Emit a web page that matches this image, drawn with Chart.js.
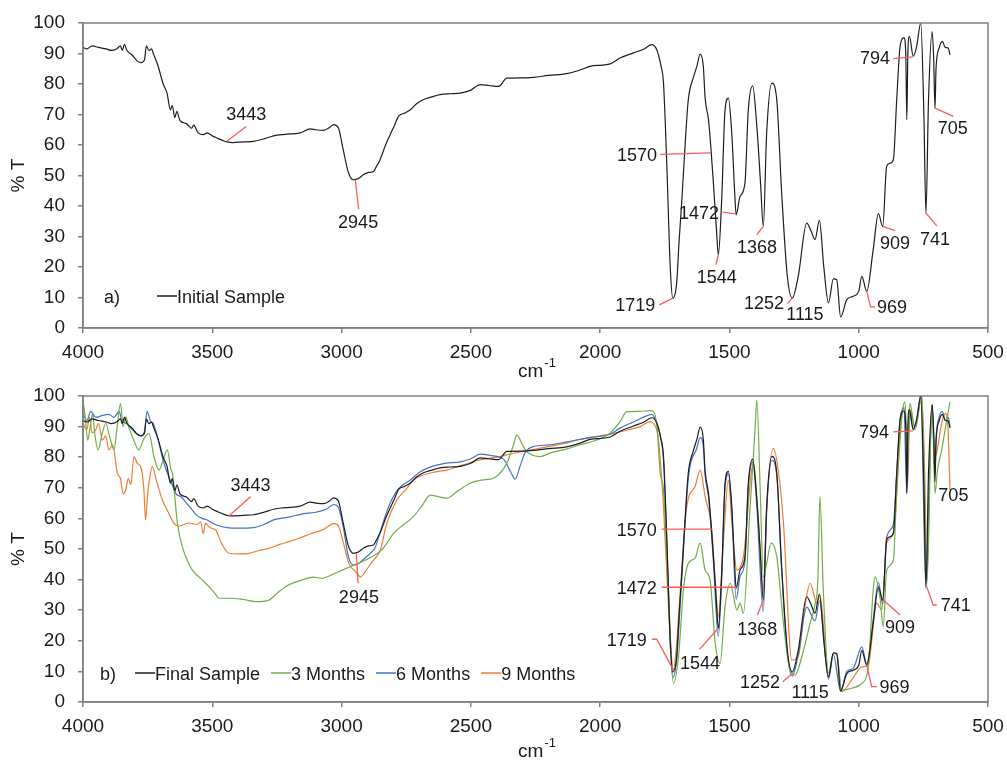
<!DOCTYPE html>
<html>
<head>
<meta charset="utf-8">
<script src="https://cdn.jsdelivr.net/npm/chart.js@4.4.1/dist/chart.umd.min.js"></script>
<style>
  body { margin: 0; background: #fff; }
  .panel { position: absolute; left: 0; width: 1007px; height: 380px; }
</style>
</head>
<body>
<div class="panel" style="top:0"><canvas id="chartA" width="1007" height="380"></canvas></div>
<div class="panel" style="top:380px"><canvas id="chartB" width="1007" height="380"></canvas></div>
<script>
// axis ticks
const xTicks = [4000, 3500, 3000, 2500, 2000, 1500, 1000, 500];
const yTicks = [0, 10, 20, 30, 40, 50, 60, 70, 80, 90, 100];

// spectra: [wavenumber cm-1, %T]
const initialSample = [
  [4000,92],[3985,91.5],[3965,92.5],[3940,92],[3910,91.5],[3890,91],[3870,91.5],[3855,92.5],[3848,91],[3840,93],
  [3830,91],[3810,89.5],[3790,87.5],[3775,87],[3762,88],[3755,92.5],[3745,91],[3735,91.5],[3728,90],[3710,86],
  [3690,80],[3675,77],[3662,71.5],[3655,73],[3645,69],[3637,71],[3625,68],[3600,67],[3580,65.5],[3572,66.5],
  [3555,64],[3534,63.4],[3520,64],[3500,63],[3482,62.3],[3460,61.5],[3443,61],[3420,60.8],[3380,61],[3340,61.2],
  [3300,62],[3263,63],[3220,63.5],[3160,64],[3121,65.3],[3100,65],[3070,64.8],[3045,65.8],[3031,66.7],[3012,65.6],
  [2995,59],[2973,50.8],[2954,48.6],[2935,49],[2915,50.3],[2895,51],[2877,51.3],[2865,53],[2851,55.2],[2830,60],
  [2812,63.4],[2795,66.5],[2780,69.4],[2755,70.5],[2735,71.5],[2710,73.5],[2683,74.9],[2650,75.8],[2619,76.5],[2580,76.8],
  [2541,77],[2500,78],[2464,79.8],[2430,79.5],[2393,79.2],[2361,81.9],[2300,82],[2258,82.2],[2200,82.8],[2129,83.4],
  [2080,84.5],[2039,85.8],[1990,86.2],[1961,86.6],[1923,88.5],[1871,90.2],[1830,91.5],[1800,92.9],[1781,91.2],[1765,86],
  [1755,80.3],[1742,53],[1729,20.2],[1719,9.8],[1704,14.8],[1695,28],[1684,42],[1670,62],[1659,74.9],[1640,82],
  [1626,85.8],[1613,89.8],[1601,85.8],[1594,75.4],[1581,68.3],[1572,59.5],[1562,47.5],[1550,32],[1543,24],[1530,42],
  [1517,71.5],[1504,75.4],[1491,63.9],[1480,45],[1474,37.1],[1459,43.1],[1440,47.5],[1427,71.5],[1410,79.4],[1394,66.1],
  [1380,48],[1369,33.3],[1356,63.9],[1336,80.3],[1317,74.9],[1298,44.3],[1276,16.9],[1257,9.8],[1234,16.9],[1201,34.4],
  [1185,32],[1169,29],[1152,35.3],[1135,20],[1117,8.2],[1098,16.1],[1085,15.8],[1070,3.6],[1046,9.3],[1021,10.4],
  [1000,12],[988,16.9],[969,12],[944,25.7],[924,37.5],[907,33.3],[892,53],[880,54],[866,55.2],[853,74.9],
  [840,92.3],[825,95.1],[818,90],[814,68.3],[810,90],[804,95.6],[789,89.1],[776,92.3],[760,100],[748,70],
  [740,37.7],[730,75],[716,97.2],[710,88],[705,72],[701,85],[689,91.8],[677,94],[665,92],[654,91.8],[647,89.6]
];
const finalSample = initialSample;

const months3 = [
  [4000,98.7],[3990,92],[3982,85.6],[3972,90],[3963,94.3],[3955,88],[3942,82.4],[3925,88],[3912,91.1],[3895,86],
  [3880,82.4],[3868,90],[3855,97.6],[3845,90],[3835,93.2],[3820,89],[3809,86.7],[3784,82.4],[3765,86],[3745,87.8],
  [3725,80],[3706,75.8],[3690,79],[3674,82.4],[3660,76],[3654,74.7],[3635,58.4],[3616,50.8],[3595,46],[3577,43.1],
  [3540,40],[3513,37.7],[3490,35.5],[3474,33.9],[3423,33.9],[3380,33.5],[3333,32.8],[3281,33.3],[3250,35.5],[3217,37.7],
  [3185,39],[3152,39.9],[3110,40.8],[3075,40.4],[3040,41.5],[2997,43.1],[2950,44.8],[2907,46.4],[2843,49.9],[2820,52.5],
  [2799,55.1],[2760,58],[2722,60.6],[2690,64],[2657,67.6],[2593,66.6],[2550,69],[2503,71.5],[2460,72.5],[2413,73.1],
  [2385,75],[2361,78],[2335,84],[2322,87.3],[2300,84],[2284,81.8],[2232,80.2],[2190,81.5],[2142,82.4],[2080,84],
  [2013,85.6],[1960,88],[1923,91.6],[1897,94.9],[1850,95],[1807,95.2],[1794,94.9],[1780,90],[1768,75],[1755,69.3],
  [1736,36.6],[1717,6.1],[1697,14.8],[1678,36.6],[1659,45.3],[1633,47],[1613,51.9],[1594,43.1],[1575,39.9],[1555,19.2],
  [1536,12.6],[1517,31.1],[1497,38.8],[1471,30.1],[1459,32.3],[1446,29],[1420,63.8],[1401,88.9],[1394,98.7],[1381,69.3],
  [1369,40.9],[1356,45.3],[1339,51.9],[1317,47.5],[1291,25.7],[1266,10.5],[1246,8.8],[1220,14.8],[1188,25.7],[1169,32],
  [1158,40],[1150,67.1],[1137,36.6],[1117,9.4],[1098,15.9],[1085,15.9],[1066,3.9],[1027,4.5],[988,6.1],[963,11.5],
  [944,36.6],[937,40.9],[918,34.4],[905,24.6],[892,43.1],[866,46.4],[853,69.3],[834,93.2],[821,98.1],[811,80],
  [802,97.6],[782,88.9],[756,99.8],[736,38.8],[716,97.1],[705,68.2],[695,76],[679,82.4],[660,92],[647,98.1]
];

const months6 = [
  [4000,94],[3985,92],[3970,95],[3950,93],[3930,93.5],[3900,94],[3880,93],[3860,95],[3850,92],[3830,91],
  [3810,89],[3790,87.5],[3775,87],[3762,88.5],[3752,95],[3740,92],[3728,91],[3710,86],[3690,79],[3670,74],
  [3655,71],[3640,68],[3620,67],[3600,65],[3580,63],[3560,61],[3540,60],[3520,59.5],[3500,58.5],[3470,57.5],
  [3443,57],[3400,56.8],[3340,57],[3300,58],[3263,59.5],[3200,60.5],[3150,61.5],[3100,62],[3060,63],[3030,64.5],
  [3015,64],[2995,58],[2975,48],[2960,45],[2945,44.8],[2930,45.5],[2910,47],[2890,48.5],[2870,50.5],[2851,55.5],
  [2830,61],[2812,65],[2790,68.5],[2770,70.5],[2735,72.5],[2700,75],[2650,77],[2600,78],[2541,78.5],[2500,79.5],
  [2464,81],[2420,80.5],[2390,80],[2370,79],[2345,75],[2329,72.8],[2310,77],[2290,81.5],[2258,83.5],[2200,84],
  [2129,85],[2039,86.5],[1961,87.5],[1923,89.5],[1871,91.5],[1820,93.5],[1800,94],[1785,92],[1765,86],[1755,79],
  [1742,52],[1729,19],[1719,8],[1704,14],[1684,41],[1659,73],[1626,83],[1613,86.5],[1601,83.5],[1594,74],
  [1581,67],[1572,58],[1562,46],[1543,21.5],[1530,40],[1517,70],[1504,74.5],[1491,63],[1474,33.5],[1459,41],
  [1440,46],[1427,70],[1410,78.5],[1394,64],[1369,29.5],[1356,62],[1336,79],[1317,74],[1298,43],[1276,16],
  [1257,8.5],[1234,15.5],[1201,31],[1169,26.5],[1152,33],[1117,7.5],[1098,15.5],[1070,3.5],[1046,10],[1021,11],
  [988,18],[969,12.5],[944,27],[924,39],[907,32],[892,54],[866,58],[853,75],[840,92],[825,96],
  [814,68],[804,95],[789,89],[776,92],[760,100],[740,37],[716,97],[705,75],[701,86],[689,93],
  [677,95],[665,92],[654,93],[647,90]
];

const months9 = [
  [4000,91],[3985,89],[3975,93],[3965,88],[3951,88.9],[3940,91],[3925,85.6],[3912,87],[3900,82.4],[3885,84],
  [3867,74.7],[3855,73],[3845,68],[3835,69.3],[3825,73],[3815,71],[3803,80.2],[3790,78],[3777,76.9],[3765,70],
  [3758,59.5],[3750,68],[3745,71.5],[3732,76.9],[3715,72],[3693,66],[3670,62],[3648,58.4],[3630,57.5],[3616,57.8],
  [3590,58.5],[3560,58],[3545,58.9],[3535,55],[3526,58.4],[3510,57],[3487,56.2],[3465,52],[3436,48.6],[3400,48.4],
  [3358,48.6],[3320,49.5],[3281,50.2],[3240,51.5],[3200,52.5],[3165,53.5],[3120,55],[3075,56.2],[3050,57.5],[3030,58.4],
  [3011,57.3],[2990,51],[2972,45.3],[2946,42.6],[2927,40.9],[2905,43],[2882,45.8],[2865,47.5],[2850,49.7],[2825,58.4],
  [2786,66],[2750,69.5],[2722,72.5],[2650,75],[2593,75.8],[2530,77.5],[2464,79.1],[2400,80],[2335,81.3],[2270,82.3],
  [2206,83.4],[2140,84.5],[2077,85.8],[2010,86.8],[1949,87.8],[1890,89],[1845,90],[1807,91.6],[1794,91.1],[1775,86],
  [1755,63.8],[1735,30],[1717,10.5],[1705,18],[1690,36.6],[1665,63.8],[1633,70.4],[1613,75.8],[1594,67.1],[1568,56.2],
  [1555,40],[1543,27.9],[1523,52.9],[1504,72.5],[1490,58],[1471,43.1],[1446,47.5],[1407,78],[1390,62],[1369,36.6],
  [1355,65],[1330,82.9],[1310,75],[1291,58.4],[1259,13.7],[1234,14.8],[1210,30],[1188,38.8],[1162,32.3],[1150,35],
  [1117,8.3],[1098,15.9],[1085,15.5],[1066,3.4],[1027,7.2],[988,11.5],[963,12.1],[931,32.3],[911,30.1],[892,51.9],
  [866,55.1],[840,85.6],[827,96.5],[815,85],[811,70.4],[802,95.4],[782,90],[756,99.8],[745,75],[736,39.9],
  [725,80],[716,97.1],[706,80],[699,81.3],[679,91.1],[665,94.3],[655,90],[647,69.3]
];

// peak labels (text, leader line and label anchor in data units)
const peaksA = [
  { text: '3443', line: [[3443,61.2],[3369,66.1]], at: [3369,70.3], align: 'center' },
  { text: '2945', line: [[2947,48.6],[2934,39.0]], at: [2936,34.9], align: 'center' },
  { text: '1570', line: [[1572,57.4],[1768,56.9]], at: [1780,56.8], align: 'right' },
  { text: '1719', line: [[1718,9.8],[1771,7.6]], at: [1787,7.6], align: 'right' },
  { text: '1544', line: [[1543,24],[1552,20.8]], at: [1549,16.8], align: 'center' },
  { text: '1472', line: [[1474,37.4],[1526,38]], at: [1540,37.8], align: 'right' },
  { text: '1368', line: [[1369,33.3],[1394,30.6]], at: [1393,26.7], align: 'center' },
  { text: '1252', line: [[1257,9.8],[1276,8.0]], at: [1289,8.3], align: 'right' },
  { text: '1115', line: [], at: [1208,4.7], align: 'center' },
  { text: '969', line: [[969,12],[954,6.9],[937,6.9]], at: [929,7.0], align: 'left' },
  { text: '909', line: [[907,33.3],[860,31.9]], at: [860,28.0], align: 'center' },
  { text: '741', line: [[740,37.7],[698,33.5]], at: [705,29.3], align: 'center' },
  { text: '705', line: [[705,72.1],[634,69.4]], at: [636,65.7], align: 'center' },
  { text: '794', line: [[791,88.9],[866,88.3]], at: [879,88.6], align: 'right' }
];
const peaksB = [
  { text: '3443', line: [[3436,60.8],[3352,67.1]], at: [3352,71.1], align: 'center' },
  { text: '2945', line: [[2943,48.6],[2936,38.8]], at: [2933,34.6], align: 'center' },
  { text: '1570', line: [[1568,56.5],[1762,56.5]], at: [1781,56.5], align: 'right' },
  { text: '1472', line: [[1472,37.5],[1762,37.5]], at: [1781,37.5], align: 'right' },
  { text: '1719', line: [[1717,10.5],[1781,20.5],[1800,20.5]], at: [1820,20.5], align: 'right' },
  { text: '1544', line: [[1543,24.1],[1616,17.2]], at: [1614,12.8], align: 'center' },
  { text: '1368', line: [[1369,33.3],[1392,28.4]], at: [1392,24.1], align: 'center' },
  { text: '1252', line: [[1255,9.4],[1294,6.6]], at: [1304,6.6], align: 'right' },
  { text: '1115', line: [], at: [1188,3.4], align: 'center' },
  { text: '969', line: [[969,12.1],[950,5.0],[930,5.0]], at: [920,5.0], align: 'left' },
  { text: '909', line: [[905,33.3],[840,28.4]], at: [840,24.6], align: 'center' },
  { text: '741', line: [[737,37.7],[712,31.7],[698,31.7]], at: [683,31.7], align: 'left' },
  { text: '705', line: [], at: [692,67.9], align: 'left' },
  { text: '794', line: [[789,88.6],[866,88.3]], at: [883,88.3], align: 'right' }
];

const FONT = '"Liberation Sans", Arial, sans-serif';
const AXIS = '#808080';

function toPoints(pairs) {
  return pairs.map(p => ({ x: p[0], y: p[1] }));
}

function series(label, pairs, color) {
  return {
    label: label,
    data: toPoints(pairs),
    borderColor: color,
    backgroundColor: color,
    borderWidth: 1.2,
    pointRadius: 0,
    cubicInterpolationMode: 'monotone',
    fill: false
  };
}

// labels, leader lines, legend and axis titles
const extras = {
  id: 'extras',
  afterDraw(chart, args, opts) {
    const ctx = chart.ctx;
    const area = chart.chartArea;
    const xs = chart.scales.x, ys = chart.scales.y;
    ctx.save();

    ctx.strokeStyle = AXIS;
    ctx.lineWidth = 1.5;
    ctx.strokeRect(area.left, area.top, area.right - area.left, area.bottom - area.top);

    ctx.fillStyle = '#1a1a1a';
    ctx.font = '18px ' + FONT;
    opts.peaks.forEach(p => {
      if (p.line.length) {
        ctx.strokeStyle = '#ff5a5a';
        ctx.lineWidth = 1.3;
        ctx.beginPath();
        p.line.forEach((pt, i) => {
          const px = xs.getPixelForValue(pt[0]), py = ys.getPixelForValue(pt[1]);
          if (i === 0) ctx.moveTo(px, py); else ctx.lineTo(px, py);
        });
        ctx.stroke();
      }
      ctx.textAlign = p.align;
      ctx.fillText(p.text, xs.getPixelForValue(p.at[0]), ys.getPixelForValue(p.at[1]) + 6.5);
    });

    // panel letter + legend
    ctx.textAlign = 'left';
    ctx.fillText(opts.letter, opts.letterX, opts.legendY + 7);
    let lx = opts.legendX;
    opts.legend.forEach(item => {
      ctx.strokeStyle = item.color;
      ctx.lineWidth = 1.5;
      ctx.beginPath();
      ctx.moveTo(lx, opts.legendY);
      ctx.lineTo(lx + 20, opts.legendY);
      ctx.stroke();
      ctx.fillStyle = '#1a1a1a';
      ctx.fillText(item.text, lx + 20, opts.legendY + 6.5);
      lx += 20 + ctx.measureText(item.text).width + 11;
    });

    // axis titles
    ctx.font = '19px ' + FONT;
    ctx.save();
    ctx.translate(24, (area.top + area.bottom) / 2);
    ctx.rotate(-Math.PI / 2);
    ctx.textAlign = 'center';
    ctx.fillText('% T', 0, 0);
    ctx.restore();

    ctx.textAlign = 'left';
    const cx = 518, cy = 377;
    ctx.fillText('cm', cx, cy);
    const w = ctx.measureText('cm').width;
    ctx.font = '13px ' + FONT;
    ctx.fillText('-1', cx + w + 1, cy - 10);

    ctx.restore();
  }
};

function makeChart(id, datasets, xHeight, padTop, pluginOpts) {
  return new Chart(document.getElementById(id).getContext('2d'), {
    type: 'line',
    data: { datasets: datasets },
    options: {
      responsive: false,
      animation: false,
      devicePixelRatio: 1,
      layout: { padding: { top: padTop, right: 19, left: 0, bottom: 0 } },
      plugins: { legend: { display: false }, tooltip: { enabled: false }, extras: pluginOpts },
      scales: {
        x: {
          type: 'linear', min: 500, max: 4000, reverse: true,
          afterBuildTicks: s => { s.ticks = xTicks.map(v => ({ value: v })); },
          afterFit: s => { s.height = xHeight; s.paddingLeft = 0; s.paddingRight = 0; },
          grid: { display: true, drawOnChartArea: false, drawTicks: true, tickLength: 5, color: AXIS, lineWidth: 1.5 },
          border: { display: true, color: AXIS, width: 1.5 },
          ticks: {
            font: { family: FONT, size: 19 }, color: '#1a1a1a', padding: 8, maxRotation: 0, autoSkip: false,
            callback: v => String(v)
          }
        },
        y: {
          min: 0, max: 100,
          afterBuildTicks: s => { s.ticks = yTicks.map(v => ({ value: v })); },
          afterFit: s => { s.width = 83; s.paddingTop = 0; s.paddingBottom = 0; },
          grid: { display: true, drawOnChartArea: false, drawTicks: true, tickLength: 5, color: AXIS, lineWidth: 1.5 },
          border: { display: true, color: AXIS, width: 1.5 },
          ticks: { font: { family: FONT, size: 19 }, color: '#1a1a1a', padding: 13, autoSkip: false }
        }
      }
    },
    plugins: [extras]
  });
}

makeChart('chartA', [series('Initial Sample', initialSample, '#1e1e1e')], 52, 23, {
  peaks: peaksA, letter: 'a)', letterX: 104, legendX: 157, legendY: 296,
  legend: [{ text: 'Initial Sample', color: '#1e1e1e' }]
});

makeChart('chartB', [
  series('Final Sample', finalSample, '#1e1e1e'),
  series('3 Months', months3, '#70ad47'),
  series('6 Months', months6, '#4472c4'),
  series('9 Months', months9, '#ed7d31')
], 58, 16, {
  peaks: peaksB, letter: 'b)', letterX: 100, legendX: 135, legendY: 293,
  legend: [
    { text: 'Final Sample', color: '#1e1e1e' },
    { text: '3 Months', color: '#70ad47' },
    { text: '6 Months', color: '#4472c4' },
    { text: '9 Months', color: '#ed7d31' }
  ]
});
</script>
</body>
</html>
